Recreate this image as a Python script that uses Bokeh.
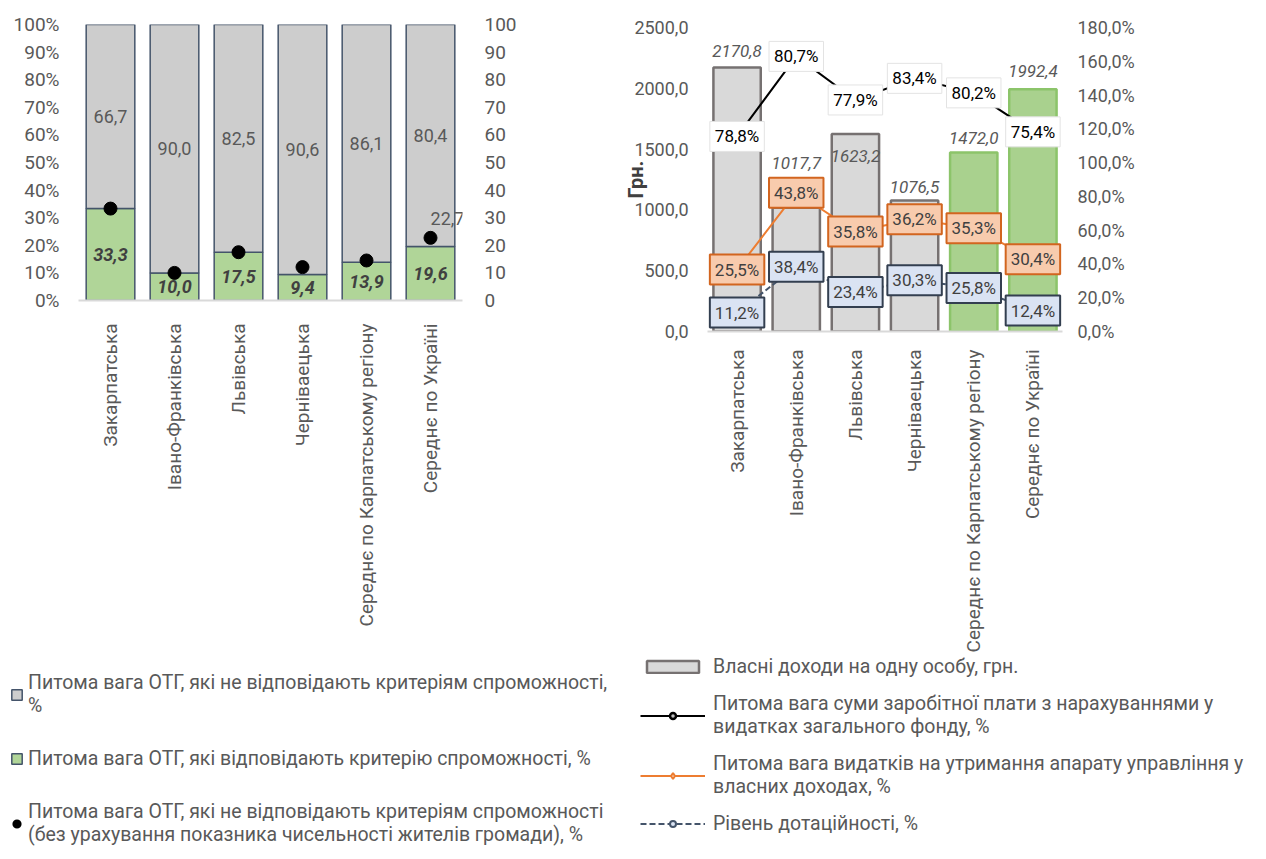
import numpy as np
from bokeh.plotting import figure
from bokeh.models import (ColumnDataSource, FactorRange, Range1d, LinearAxis, Legend, LegendItem,
                          CustomJSTickFormatter, SingleIntervalTicker)
from bokeh.layouts import row, column
from bokeh.embed import file_html
from bokeh.resources import INLINE
from bokeh.core.properties import value

# ---------------- data ----------------
categories = ["Закарпатська", "Івано-Франківська", "Львівська", "Черніваецька",
              "Середнє по Карпатському регіону", "Середнє по Україні"]

# left chart (%)
not_capable = [66.7, 90.0, 82.5, 90.6, 86.1, 80.4]
capable = [33.3, 10.0, 17.5, 9.4, 13.9, 19.6]
not_capable_wo_pop = [33.3, 10.0, 17.5, 12.1, 14.5, 22.7]

# right chart
own_income = [2170.8, 1017.7, 1623.2, 1076.5, 1472.0, 1992.4]   # грн
salary_share = [78.8, 80.7, 77.9, 83.4, 80.2, 75.4]            # %
admin_share = [25.5, 43.8, 35.8, 36.2, 35.3, 30.4]             # %
subsidy_level = [11.2, 38.4, 23.4, 30.3, 25.8, 12.4]           # %

left_legend_labels = [
    "Питома вага ОТГ, які не відповідають критеріям спроможності,\n%",
    "Питома вага ОТГ, які відповідають критерію спроможності, %",
    "Питома вага ОТГ, які не відповідають критеріям спроможності\n(без урахування показника чисельності жителів громади), %",
]
right_legend_labels = [
    "Власні доходи на одну особу, грн.",
    "Питома вага суми заробітної плати з нарахуваннями у\nвидатках загального фонду, %",
    "Питома вага видатків на утримання апарату управління у\nвласних доходах, %",
    "Рівень дотаційності, %",
]
y_axis_title = "Грн."

# ---------------- style ----------------
FONT = "Roboto"
GRAY = "#595959"
DARK = "#404040"
L_GRAY, L_GREEN, L_EDGE = "#cdcdcd", "#b0d598", "#44546a"
R_GRAY, R_GRAY_EDGE = "#d9d9d9", "#767171"
R_GREEN, R_GREEN_EDGE = "#a9d18e", "#8cc46a"
bar_fill = [R_GRAY] * 4 + [R_GREEN] * 2
bar_line = [R_GRAY_EDGE] * 4 + [R_GREEN_EDGE] * 2
bar_label_dy = [-17, -45, 22, -14, -15, -18]
SUB_C, SUB_FILL = "#44546a", "#dae3f3"
ADM_C, ADM_FILL, ADM_EDGE = "#ed7d31", "#f8cbad", "#d2651f"
TOP_H = 655
LEG_H = 204
LEG_FONT = "19.5px"


def comma(v, suffix=""):
    return f"{v:.1f}".replace(".", ",") + suffix


def style_common(p):
    p.xgrid.visible = False
    p.ygrid.visible = False
    p.outline_line_color = None
    p.background_fill_color = "white"
    p.border_fill_color = "white"


def style_yaxis(ax, standoff, size):
    ax.axis_line_color = None
    ax.major_tick_line_color = None
    ax.minor_tick_line_color = None
    ax.major_label_text_font = FONT
    ax.major_label_text_font_size = size
    ax.major_label_text_color = GRAY
    ax.major_label_standoff = standoff


def style_xaxis(ax, standoff, size):
    ax.axis_line_color = "#d9d9d9"
    ax.axis_line_width = 2
    ax.major_tick_line_color = None
    ax.minor_tick_line_color = None
    ax.major_label_orientation = np.pi / 2
    ax.major_label_text_font = FONT
    ax.major_label_text_font_size = size
    ax.major_label_text_color = GRAY
    ax.major_label_standoff = standoff


def legend_figure(width, height, left, top, build, **kw):
    lf = figure(width=width, height=height, x_range=Range1d(0, 1), y_range=Range1d(0, 1),
                output_backend="svg", toolbar_location=None,
                x_axis_location=None, y_axis_location=None,
                min_border_left=left, min_border_right=0, min_border_top=top, min_border_bottom=0)
    style_common(lf)
    # keyed renderers without drawable data; only their legend glyphs show
    off = ColumnDataSource(dict(x=[np.nan], y=[np.nan]))
    items = build(lf, off)
    leg = Legend(items=items, location="top_left", orientation="vertical",
                 padding=0, margin=0, label_text_font=FONT, label_text_font_size=LEG_FONT,
                 label_text_color=GRAY, label_text_line_height=1.25,
                 border_line_color=None, background_fill_alpha=0, **kw)
    lf.add_layout(leg, "center")
    return lf


# ---------------- left chart ----------------
cap = np.array(capable)
ncap = np.array(not_capable)
src1 = ColumnDataSource(dict(
    cat=categories, capable=capable, not_capable=not_capable, dots=not_capable_wo_pop,
    cap_mid=cap / 2, nc_mid=cap + ncap / 2,
    cap_txt=[comma(v) for v in capable], nc_txt=[comma(v) for v in not_capable],
))
src1_last = ColumnDataSource(dict(cat=[categories[-1]], y=[not_capable_wo_pop[-1]],
                                  t=[comma(not_capable_wo_pop[-1])]))

p1 = figure(x_range=FactorRange(*categories), y_range=Range1d(0, 100),
            width=620, height=TOP_H, output_backend="svg", toolbar_location=None,
            min_border_left=78, min_border_right=158, min_border_top=24,
            min_border_bottom=TOP_H - 300)
style_common(p1)

p1.vbar_stack(["capable", "not_capable"], x="cat", width=0.76, source=src1,
              fill_color=[L_GREEN, L_GRAY], line_color=L_EDGE, line_width=1.5)
p1.scatter(x="cat", y="dots", source=src1, size=13, color="black")

p1.text(x="cat", y="nc_mid", text="nc_txt", source=src1, text_font=value(FONT),
        text_font_size="18px", text_color=GRAY, text_align="center", text_baseline="middle")
p1.text(x="cat", y="cap_mid", text="cap_txt", source=src1, text_font=value(FONT),
        text_font_size="18px", text_font_style="bold italic", text_color=DARK,
        text_align="center", text_baseline="middle")
p1.text(x="cat", y="y", text="t", source=src1_last, text_font=value(FONT),
        text_font_size="18px", text_color=GRAY, text_align="center", text_baseline="middle",
        x_offset=17, y_offset=-19)

p1.yaxis[0].ticker = SingleIntervalTicker(interval=10, num_minor_ticks=0)
p1.yaxis[0].formatter = CustomJSTickFormatter(code="return tick + '%';")
style_yaxis(p1.yaxis[0], 13, "19px")
ax1r = LinearAxis(ticker=SingleIntervalTicker(interval=10, num_minor_ticks=0))
style_yaxis(ax1r, 16, "19px")
p1.add_layout(ax1r, "right")
style_xaxis(p1.xaxis[0], 17, "19px")


def left_items(lf, off):
    g1 = lf.vbar(x="x", top="y", width=1, source=off, fill_color=L_GRAY, line_color=L_EDGE, line_width=1.5)
    g2 = lf.vbar(x="x", top="y", width=1, source=off, fill_color=L_GREEN, line_color=L_EDGE, line_width=1.5)
    g3 = lf.scatter(x="x", y="y", source=off, size=9, color="black", line_width=4)
    return [LegendItem(label=left_legend_labels[0], renderers=[g1]),
            LegendItem(label=left_legend_labels[1], renderers=[g2]),
            LegendItem(label=left_legend_labels[2], renderers=[g3])]


lf1 = legend_figure(620, LEG_H, 10, 16, left_items, glyph_width=13, glyph_height=13,
                    label_standoff=5, spacing=30)

# ---------------- right chart ----------------
sub = np.array(subsidy_level)
adm = sub + np.array(admin_share)
sal = adm + np.array(salary_share)
src2 = ColumnDataSource(dict(
    cat=categories, income=own_income, fill=bar_fill, line=bar_line, dy=bar_label_dy,
    inc_txt=[comma(v) for v in own_income],
    sub_y=sub, adm_y=adm, sal_y=sal,
    sub_txt=[comma(v, "%") for v in subsidy_level],
    adm_txt=[comma(v, "%") for v in admin_share],
    sal_txt=[comma(v, "%") for v in salary_share],
))

p2 = figure(x_range=FactorRange(*categories), y_range=Range1d(0, 2500),
            width=646, height=TOP_H, output_backend="svg", toolbar_location=None,
            min_border_left=87, min_border_right=204, min_border_top=27,
            min_border_bottom=TOP_H - 331)
p2.extra_y_ranges = {"pct": Range1d(0, 180)}
style_common(p2)

p2.vbar(x="cat", top="income", width=0.8, source=src2, fill_color="fill",
        line_color="line", line_width=2.5)
p2.text(x="cat", y="income", text="inc_txt", source=src2, text_font=value(FONT),
        text_font_size="17px", text_font_style="italic", text_color=GRAY,
        text_align="center", text_baseline="middle", y_offset="dy")

p2.line(x="cat", y="sub_y", source=src2, y_range_name="pct", line_color=SUB_C,
        line_width=2, line_dash="6 3")
p2.scatter(x="cat", y="sub_y", source=src2, y_range_name="pct", marker="circle",
           size=11, fill_color=SUB_FILL, line_color=SUB_C, line_width=1.5)
p2.line(x="cat", y="adm_y", source=src2, y_range_name="pct", line_color=ADM_C, line_width=2)
p2.scatter(x="cat", y="adm_y", source=src2, y_range_name="pct", marker="diamond",
           size=14, fill_color=ADM_FILL, line_color=ADM_C, line_width=1.5)
p2.line(x="cat", y="sal_y", source=src2, y_range_name="pct", line_color="black", line_width=2)
p2.scatter(x="cat", y="sal_y", source=src2, y_range_name="pct", marker="circle",
           size=11, fill_color="#bfbfbf", line_color="black", line_width=1.5)

box_common = dict(source=src2, y_range_name="pct", text_font=value(FONT), text_font_size="17px",
                  text_align="center", text_baseline="middle", padding=5)
p2.text(x="cat", y="sub_y", text="sub_txt", text_color=DARK, background_fill_color=SUB_FILL,
        border_line_color="#333f50", border_line_width=2, **box_common)
p2.text(x="cat", y="adm_y", text="adm_txt", text_color=DARK, background_fill_color=ADM_FILL,
        border_line_color=ADM_EDGE, border_line_width=2, **box_common)
p2.text(x="cat", y="sal_y", text="sal_txt", text_color="black", background_fill_color="white",
        border_line_color="#e3e3e3", border_line_width=1, **box_common)

p2.yaxis[0].ticker = SingleIntervalTicker(interval=500, num_minor_ticks=0)
p2.yaxis[0].formatter = CustomJSTickFormatter(code="return tick.toFixed(1).replace('.', ',');")
style_yaxis(p2.yaxis[0], 13, "18px")
p2.yaxis[0].axis_label = y_axis_title
p2.yaxis[0].axis_label_text_font = FONT
p2.yaxis[0].axis_label_text_font_size = "20px"
p2.yaxis[0].axis_label_text_font_style = "bold"
p2.yaxis[0].axis_label_text_color = DARK
p2.yaxis[0].axis_label_standoff = -17

ax2r = LinearAxis(y_range_name="pct", ticker=SingleIntervalTicker(interval=20, num_minor_ticks=0),
                  formatter=CustomJSTickFormatter(code="return tick.toFixed(1).replace('.', ',') + '%';"))
style_yaxis(ax2r, 9, "18px")
p2.add_layout(ax2r, "right")
style_xaxis(p2.xaxis[0], 12, "19px")


def right_items(lf, off):
    b = lf.vbar(x="x", top="y", width=1, source=off, fill_color=R_GRAY, line_color=R_GRAY_EDGE, line_width=2.5)
    l1 = lf.line(x="x", y="y", source=off, line_color="black", line_width=2)
    m1 = lf.scatter(x="x", y="y", source=off, marker="circle", size=11,
                    fill_color="#bfbfbf", line_color="black", line_width=2.5)
    l2 = lf.line(x="x", y="y", source=off, line_color=ADM_C, line_width=2)
    m2 = lf.scatter(x="x", y="y", source=off, marker="diamond", size=14,
                    fill_color=ADM_FILL, line_color=ADM_C, line_width=2)
    l3 = lf.line(x="x", y="y", source=off, line_color=SUB_C, line_width=2, line_dash="6 3")
    m3 = lf.scatter(x="x", y="y", source=off, marker="circle", size=11,
                    fill_color=SUB_FILL, line_color=SUB_C, line_width=2)
    return [LegendItem(label=right_legend_labels[0], renderers=[b]),
            LegendItem(label=right_legend_labels[1], renderers=[l1, m1]),
            LegendItem(label=right_legend_labels[2], renderers=[l2, m2]),
            LegendItem(label=right_legend_labels[3], renderers=[l3, m3])]


lf2 = legend_figure(646, LEG_H, 20, 0, right_items, glyph_width=65, glyph_height=15,
                    label_standoff=8, spacing=14)

layout = column(row(column(p1), column(p2)), row(column(lf1), column(lf2)))
open("out.html", "w").write(file_html(layout, INLINE))
